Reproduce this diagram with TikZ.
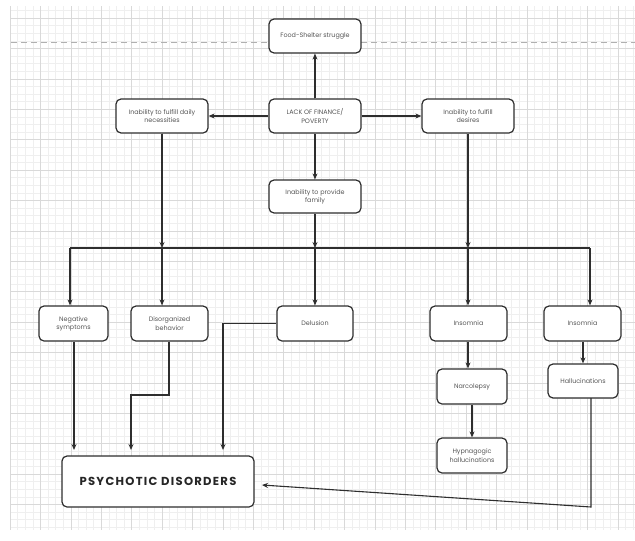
\documentclass[tikz,border=0pt]{standalone}
\usepackage{fontspec}
\setmainfont{Poppins}
\newfontfamily\psyfont[LetterSpace=11]{Poppins}
\usetikzlibrary{arrows.meta}
\definecolor{gridminor}{HTML}{EFEFEF}
\definecolor{gridmajor}{HTML}{D9D9D9}
\definecolor{boxline}{HTML}{2E2E2E}
\definecolor{txt}{HTML}{555555}
\definecolor{dashcol}{HTML}{B0B0B0}
\tikzset{
  box/.style={draw=boxline, line width=1.2pt, rounded corners=5pt, fill=white,
    align=center, inner sep=0pt, text=txt, font=\fontsize{6.4}{8.2}\selectfont},
  conn/.style={draw=boxline, line width=1.1pt},
  arr/.style={conn, -{Stealth[length=6pt,width=5pt]}},
  minorline/.style={draw=gridminor, line width=0.45pt},
  majorline/.style={draw=gridmajor, line width=0.6pt},
}
\begin{document}
\begin{tikzpicture}[x=1pt,y=-1pt]
\useasboundingbox (0,0) rectangle (635,541);
% grid
\foreach \i in {0,...,82} {\draw[minorline] ({10+7.6*\i},6) -- ({10+7.6*\i},530);}
\foreach \j in {0,...,68} {\draw[minorline] (10,{10.4+7.6*\j}) -- (635,{10.4+7.6*\j});}
\foreach \i in {0,...,20} {\draw[majorline] ({10+30.4*\i},6) -- ({10+30.4*\i},530);}
\foreach \j in {0,...,16} {\draw[majorline] (10,{18+30.4*\j}) -- (635,{18+30.4*\j});}
% dashed line
\draw[draw=dashcol, line width=0.9pt, dash pattern=on 6pt off 4pt] (11,42) -- (635,42);
% nodes
\node[box, minimum width=92pt, minimum height=34pt] (food) at (315,36) {Food-Shelter struggle};
\node[box, minimum width=92pt, minimum height=34pt] (lack) at (315,116) {LACK OF FINANCE/\\POVERTY};
\node[box, minimum width=92pt, minimum height=34pt] (daily) at (162,116) {Inability to fulfill daily\\necessities};
\node[box, minimum width=92pt, minimum height=34pt] (desires) at (468,116) {Inability to fulfill\\desires};
\node[box, minimum width=92pt, minimum height=33pt] (family) at (315,196.5) {Inability to provide\\family};
\node[box, minimum width=69pt, minimum height=35pt] (neg) at (73.5,323.5) {Negative\\symptoms};
\node[box, minimum width=77pt, minimum height=35pt] (dis) at (169.5,323.5) {Disorganized\\behavior};
\node[box, minimum width=76pt, minimum height=35pt] (del) at (315,323.5) {Delusion};
\node[box, minimum width=77pt, minimum height=35pt] (ins1) at (468.5,323.5) {Insomnia};
\node[box, minimum width=77pt, minimum height=35pt] (ins2) at (582.5,323.5) {Insomnia};
\node[box, minimum width=70pt, minimum height=35pt] (narc) at (472,386.5) {Narcolepsy};
\node[box, minimum width=70pt, minimum height=34pt] (hall) at (583,381) {Hallucinations};
\node[box, minimum width=70pt, minimum height=35pt] (hyp) at (472,455.5) {Hypnagogic\\hallucinations};
\node[box, minimum width=192pt, minimum height=51pt, text=black!85, font=\psyfont\fontsize{11.6}{13}\selectfont\bfseries] (psych) at (158,481.5) {PSYCHOTIC DISORDERS};
% coordinates
\coordinate (bL) at (70,248);
\coordinate (bR) at (590,248);
\coordinate (b1) at (70,248);
\coordinate (b2) at (162,248);
\coordinate (b3) at (315,248);
\coordinate (b4) at (468,248);
\coordinate (b5) at (590,248);
\coordinate (negend) at (74,450);
\coordinate (disA) at (169,395);
\coordinate (disB) at (131,395);
\coordinate (disend) at (131,450);
\coordinate (delA) at (223,323.5);
\coordinate (delend) at (223,450);
\coordinate (hallA) at (591,398);
\coordinate (hallB) at (591,507);
\coordinate (psychin) at (262,485);
% top connectors
\draw[arr] (lack.north) -- (food.south);
\draw[arr] (lack.west) -- (daily.east);
\draw[arr] (lack.east) -- (desires.east -| desires.west);
\draw[arr] (lack.south) -- (family.north);
\draw[arr] (daily.south) -- (b2);
\draw[arr] (family.south) -- (b3);
\draw[arr] (desires.south) -- (b4);
\draw[conn] (bL) -- (bR);
\draw[arr] (b1) -- (b1 |- neg.north);
\draw[arr] (b2) -- (b2 |- dis.north);
\draw[arr] (b3) -- (del.north);
\draw[arr] (b4) -- (b4 |- ins1.north);
\draw[arr] (b5) -- (b5 |- ins2.north);
% lower connectors
\draw[arr] (b4 |- ins1.south) -- (b4 |- narc.north);
\draw[arr] (narc.south) -- (hyp.north);
\draw[arr] (ins2.south -| hall.south) -- (hall.north);
\draw[arr] (negend |- neg.south) -- (negend);
\draw[arr] (disA |- dis.south) -- (disA) -- (disB) -- (disend);
\draw[arr] (del.west) -- (delA) -- (delend);
\draw[arr] (hallA) -- (hallB) -- (psychin);
\end{tikzpicture}
\end{document}
